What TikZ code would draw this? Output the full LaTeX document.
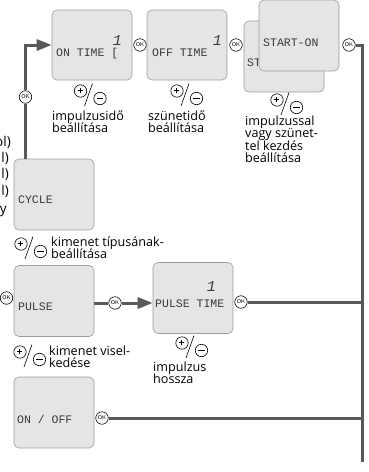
\documentclass[tikz,border=0pt]{standalone}
\usepackage{fontspec}
\setmainfont{Open Sans}
\newfontfamily\lcdfont{Liberation Mono}
\usetikzlibrary{positioning, arrows.meta}

\definecolor{boxfill}{HTML}{E4E5E6}
\definecolor{boxedge}{HTML}{9C9C9C}
\definecolor{flowgray}{HTML}{58595B}
\definecolor{lcdgray}{HTML}{3A3A3A}

\tikzset{
  lcdbox/.style={draw=boxedge, fill=boxfill, rounded corners=5pt, line width=0.6pt,
    minimum width=80pt, minimum height=71pt},
  lcdtext/.style={font=\lcdfont\fontsize{11.5}{11.5}\selectfont, text=lcdgray,
    inner sep=0pt, anchor=base west},
  lcddigit/.style={font=\lcdfont\fontsize{15}{15}\selectfont\itshape, text=lcdgray,
    inner sep=0pt, anchor=base east},
  okbtn/.style={circle, draw, fill=white, line width=0.6pt, minimum size=12.5pt,
    inner sep=0pt, font=\sffamily\fontsize{5.5}{5.5}\selectfont},
  flow/.style={draw=flowgray, line width=3pt},
  flowarrow/.style={flow, -{Triangle[length=15pt,width=11pt]}},
  caption/.style={anchor=base west, inner sep=0pt,
    font=\fontsize{12.6}{12.6}\selectfont},
  edgetext/.style={inner sep=0pt, anchor=base east, font=\fontsize{13.5}{14}\selectfont},
  pics/plusminus/.style={code={
    \draw[line width=0.6pt, fill=white] (0,0) circle (6.2pt);
    \draw[line width=0.5pt] (-3,-0.8) -- (2.4,-0.8) (-0.3,-3.5) -- (-0.3,1.9);
    \draw[line width=0.6pt] (19.5,7.5) circle (6.2pt);
    \draw[line width=0.8pt] (16.3,7.5) -- (22.7,7.5);
    \draw[line width=0.6pt] (12,-7.5) -- (4,15);
  }}
}

\begin{document}
\begin{tikzpicture}[x=1pt, y=-1pt]
  \useasboundingbox (0,0) rectangle (369,472);

  % Display boxes (back one first)
  \node[lcdbox, minimum height=70pt] (ontime) at (92,45) {};
  \node[lcdbox, minimum height=70pt] (offtime) at (187,45) {};
  \node[lcdbox] (stback) at (284,56.5) {};
  \node[lcdtext] (sttxt) at (247,66) {ST};
  \node[lcdbox] (starton) at (299,35.5) {};
  \node[lcdbox] (cycle) at (54,194.5) {};
  \node[lcdbox] (pulse) at (54,301) {};
  \node[lcdbox] (pulsetime) at (193,298) {};
  \node[lcdbox] (onoff) at (54,412.5) {};

  % Texts on the displays
  \node[lcdtext] (ontimetxt) at (56,56) {ON TIME [};
  \node[lcddigit] (ontimedig) at (122,45) {1};
  \node[lcdtext] (offtimetxt) at (152,56) {OFF TIME};
  \node[lcddigit] (offtimedig) at (222,45) {1};
  \node[lcdtext] (startontxt) at (263,46) {START-ON};
  \node[lcdtext] (cycletxt) at (18,203) {CYCLE};
  \node[lcdtext] (pulsetxt) at (18,310) {PULSE};
  \node[lcdtext] (pulsetimetxt) at (155,307) {PULSE TIME};
  \node[lcddigit] (pulsetimedig) at (216,291) {1};
  \node[lcdtext] (onofftxt) at (17,423) {ON / OFF};

  % OK buttons
  \node[okbtn] (okcycle) at (25.5,97) {OK};
  \node[okbtn] (okon) at (140,45) {OK};
  \node[okbtn] (okoff) at (236,45) {OK};
  \node[okbtn] (okstart) at (349,45) {OK};
  \node[okbtn] (okleft) at (6.5,298) {OK};
  \node[okbtn] (okpulse) at (115,303) {OK};
  \node[okbtn] (okpt) at (241,302) {OK};
  \node[okbtn] (okonoff) at (102,418) {OK};

  % Rail on the right
  \coordinate (cyctop) at (25.5,159);
  \coordinate (railbot) at (362.5,462);

  \draw[flow] (cyctop) -- (okcycle);
  \draw[flowarrow] (okcycle) |- (ontime.west);
  \draw[flow] (okstart) -| (railbot);
  \draw[flow] (pulse.east |- okpulse) -- (okpulse);
  \draw[flowarrow] (okpulse) -- (okpulse -| pulsetime.west);
  \draw[flow] (okpt) -- (okpt -| railbot);
  \draw[flow] (okonoff) -- (okonoff -| railbot);

  % Plus / minus keys
  \pic at (80.5,91) {plusminus};
  \pic at (177,91) {plusminus};
  \pic at (277,100) {plusminus};
  \pic at (21,244) {plusminus};
  \pic at (20,352) {plusminus};
  \pic at (182,343) {plusminus};

  % Captions (one node per line)
  \node[caption] (capon1) at (52,120) {impulzusidő};
  \node[caption] (capon2) at (52,132.5) {beállítása};
  \node[caption] (capoff1) at (148,120) {szünetidő};
  \node[caption] (capoff2) at (148,132.5) {beállítása};
  \node[caption] (capstart1) at (245,125) {impulzussal};
  \node[caption] (capstart2) at (245,137.5) {vagy szünet-};
  \node[caption] (capstart3) at (245,150) {tel kezdés};
  \node[caption] (capstart4) at (245,162.5) {beállítása};
  \node[caption] (capcycle1) at (51,246) {kimenet típusának-};
  \node[caption] (capcycle2) at (51,258.5) {beállítása};
  \node[caption] (cappulse1) at (49,355) {kimenet visel-};
  \node[caption] (cappulse2) at (49,367.5) {kedése};
  \node[caption] (cappt1) at (153,371) {impulzus};
  \node[caption] (cappt2) at (153,383.5) {hossza};

  % Cut-off text on the left edge
  \node[edgetext] (frag1) at (11,146) {ol)};
  \node[edgetext] (frag2) at (9,162) {l)};
  \node[edgetext] (frag3) at (9,178) {l)};
  \node[edgetext] (frag4) at (9,195) {l)};
  \node[edgetext] (frag5) at (7,213) {y};
\end{tikzpicture}
\end{document}
